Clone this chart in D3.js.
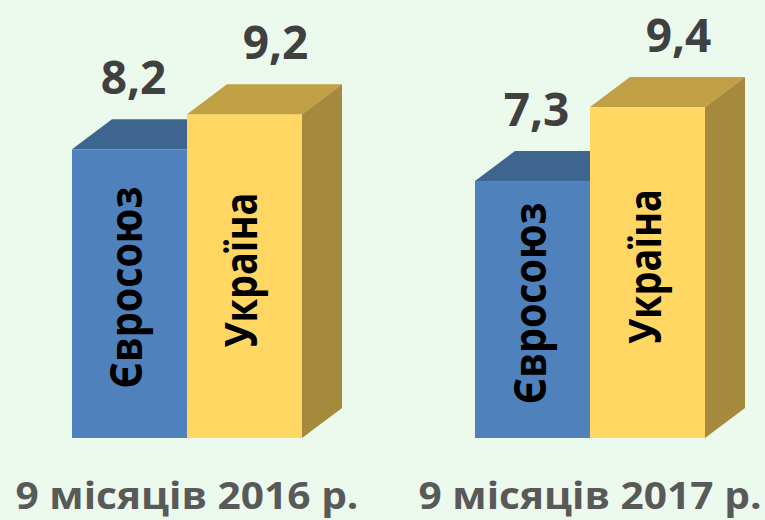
<!DOCTYPE html>
<html>
<head>
<meta charset="utf-8">
<script src="https://cdn.jsdelivr.net/npm/d3@7"></script>
<style>
  html,body{margin:0;padding:0;background:#ecfaed;}
  svg{display:block;font-family:"Open Sans",Lato,sans-serif;font-weight:700;}
</style>
</head>
<body>
<svg id="chart" width="765" height="520"></svg>
<script>
const periods=["9 місяців 2016 р.","9 місяців 2017 р."];
const series=["Євросоюз","Україна"];
const euValues=[8.2,7.3];
const uaValues=[9.2,9.4];
const valueLabels=[["8,2","9,2"],["7,3","9,4"]];

const colors={
  "Євросоюз":{front:"#4f81bd",top:"#3d6590",side:"#335580"},
  "Україна":{front:"#ffd762",top:"#c1a045",side:"#a58a3d"}
};
const labelNudge={"Євросоюз":4,"Україна":31};

const svg=d3.select("#chart");
const base=438, dx=40, dy=30;

const x0=d3.scaleBand().domain(periods).range([72,705]).paddingInner(0.4293).paddingOuter(0);
const x1=d3.scaleBand().domain(series).range([0,x0.bandwidth()]).padding(0);
const y=d3.scaleLinear().domain([0,10]).range([base,86]);

const data=periods.map((p,i)=>({
  period:p,
  bars:[
    {key:"Євросоюз",value:euValues[i],label:valueLabels[i][0]},
    {key:"Україна",value:uaValues[i],label:valueLabels[i][1]}
  ]
}));

const groups=svg.selectAll(".grp")
  .data(data)
  .join("g")
  .attr("class","grp")
  .attr("transform",d=>`translate(${x0(d.period)},0)`);

const bars=groups.selectAll(".bar")
  .data(d=>d.bars)
  .join("g")
  .attr("class","bar");

bars.each(function(d){
  const g=d3.select(this);
  const xl=x1(d.key), xr=xl+x1.bandwidth(), yt=y(d.value);
  const c=colors[d.key];
  g.append("rect")
    .attr("x",xl).attr("y",yt)
    .attr("width",x1.bandwidth()).attr("height",base-yt)
    .attr("fill",c.front);
  g.append("path")
    .attr("d",`M${xl},${yt}L${xl+dx},${yt-dy}L${xr+dx},${yt-dy}L${xr},${yt}Z`)
    .attr("fill",c.top);
  g.append("path")
    .attr("d",`M${xr},${yt}L${xr+dx},${yt-dy}L${xr+dx},${base-dy}L${xr},${base}Z`)
    .attr("fill",c.side);
  // name inside the bar, rotated
  const cx=xl+x1.bandwidth()/2+13, cy=(yt+base)/2-6;
  g.append("text")
    .attr("transform",`translate(${cx},${cy}) rotate(-90)`)
    .attr("text-anchor","middle")
    .attr("font-size","44px")
    .attr("fill","#000")
    .attr("textLength",d.key==="Євросоюз"?202:155)
    .attr("lengthAdjust","spacingAndGlyphs")
    .text(d.key);
  // value above the bar
  g.append("text")
    .attr("x",xl+x1.bandwidth()/2+labelNudge[d.key])
    .attr("y",yt-55)
    .attr("text-anchor","middle")
    .attr("font-size","46px")
    .attr("fill","#404040")
    .text(d.label);
});

svg.selectAll(".period")
  .data(periods)
  .join("text")
  .attr("class","period")
  .attr("x",d=>x0(d)+x0.bandwidth()/2)
  .attr("y",509)
  .attr("text-anchor","middle")
  .attr("font-size","37px")
  .attr("fill","#595959")
  .attr("textLength",343)
  .attr("lengthAdjust","spacingAndGlyphs")
  .text(d=>d);
</script>
</body>
</html>
